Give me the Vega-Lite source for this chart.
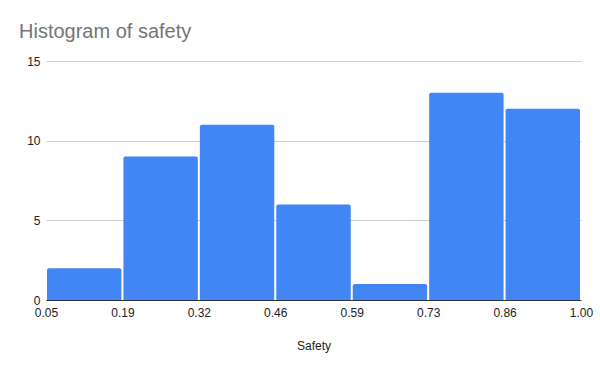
{
  "$schema": "https://vega.github.io/schema/vega-lite/v6.json",
  "autosize": "none",
  "width": 535,
  "height": 239,
  "padding": {"left": 46, "top": 61, "right": 19, "bottom": 71},
  "background": "white",
  "title": {
    "text": "Histogram of safety",
    "anchor": "start",
    "frame": "group",
    "dx": -27,
    "offset": -3,
    "baseline": "alphabetic",
    "font": "Liberation Sans",
    "fontSize": 20,
    "fontWeight": "normal",
    "color": "#757575"
  },
  "data": {
    "values": [
      {"bin_start": 0.05, "bin_end": 0.1857, "count": 2},
      {"bin_start": 0.1857, "bin_end": 0.3214, "count": 9},
      {"bin_start": 0.3214, "bin_end": 0.4571, "count": 11},
      {"bin_start": 0.4571, "bin_end": 0.5929, "count": 6},
      {"bin_start": 0.5929, "bin_end": 0.7286, "count": 1},
      {"bin_start": 0.7286, "bin_end": 0.8643, "count": 13},
      {"bin_start": 0.8643, "bin_end": 1.0, "count": 12}
    ]
  },
  "mark": {
    "type": "bar",
    "color": "#4285F4",
    "xOffset": 1,
    "x2Offset": -1,
    "cornerRadiusTopLeft": 2,
    "cornerRadiusTopRight": 2
  },
  "encoding": {
    "x": {
      "field": "bin_start",
      "type": "quantitative",
      "scale": {"domain": [0.05, 1.0], "nice": false, "zero": false},
      "axis": {
        "values": [0.05, 0.1857, 0.3214, 0.4571, 0.5929, 0.7286, 0.8643, 1.0],
        "format": ".2f",
        "title": "Safety",
        "grid": false,
        "ticks": false,
        "domainColor": "#333333",
        "domainWidth": 1,
        "labelFont": "Liberation Sans",
        "labelFontSize": 12,
        "labelColor": "#222222",
        "labelPadding": 7,
        "labelFlush": false,
        "titleFont": "Liberation Sans",
        "titleFontSize": 12,
        "titleFontWeight": "normal",
        "titleColor": "#222222",
        "titlePadding": 22
      }
    },
    "x2": {"field": "bin_end"},
    "y": {
      "field": "count",
      "type": "quantitative",
      "scale": {"domain": [0, 15], "nice": false, "padding": 0},
      "axis": {
        "values": [0, 5, 10, 15],
        "title": null,
        "ticks": false,
        "domain": false,
        "gridColor": "#cccccc",
        "labelFont": "Liberation Sans",
        "labelFontSize": 12,
        "labelColor": "#222222",
        "labelPadding": 6
      }
    },
    "y2": {"datum": 0}
  },
  "config": {"view": {"stroke": null}}
}
